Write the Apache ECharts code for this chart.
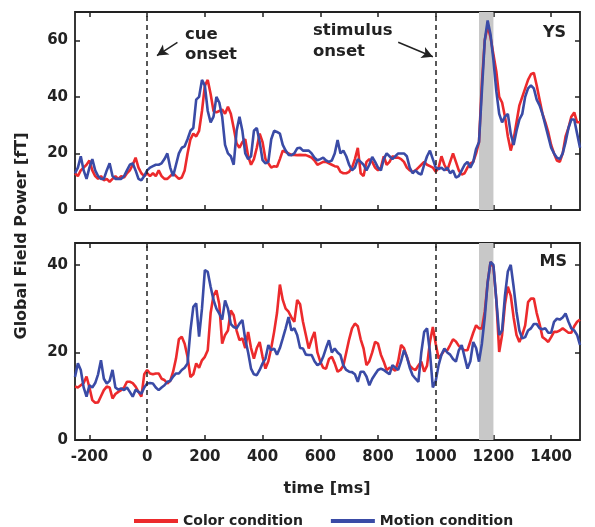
<!DOCTYPE html>
<html>
<head>
<meta charset="utf-8">
<script src="https://cdn.jsdelivr.net/npm/echarts@6/dist/echarts.min.js"></script>
<style>html,body{margin:0;padding:0;background:#fff}#c{width:595px;height:527px}</style>
</head>
<body>
<div id="c"></div>
<script>
// time grid (ms): -250 .. 1500, 10 ms step
const T_START = -250, T_STEP = 10;
const xTicks = [-200, 0, 200, 400, 600, 800, 1000, 1200, 1400];
const ysTicks = [0, 20, 40, 60];
const msTicks = [0, 20, 40];
const seriesNames = ['Color condition', 'Motion condition'];
const panelLabels = ['YS', 'MS'];
const eventTimes = [0, 1000];
const bandRange = [1150, 1200];

// YS panel
const ysColor = [13,12,14,15,16,17.5,14,12,11,12,10.5,11,10,11,12,11,12,11.5,13,14,16,18.5,15,13,12,
13,12,13,12,14,12,11,11,12,13,12,11,11.5,14,20,25,27,26,28,35,44,46,41,35,34.5,35,35.5,34,36.5,34,
29,23.5,22,24,25,19,16,18,22,27,24,18,16.5,15,15.5,15.3,18,21,20.5,20,19.5,19.5,19.4,19.5,19.4,19.4,
19,18.5,17.5,16,16.5,17,17,16.5,16,15.5,15.3,13.5,13,13,13.5,15,18,22,13,12,17,18,17,15,14,15,19,16,17,
19,18.5,18.5,18,17,15,14,13.5,14,15,16,17,16,15.5,15,13.5,15,19,16,14,17,20,17,14,12.5,13,15,16.5,17,
20,24,45,60,65,61,55,49,40,38,33,26,21,25,31,37,40,43,46,48,48.5,44,39,34,31,27.5,23,20,17.5,17,20,26,
29,33,34.5,31,31];
const ysMotion = [13,15,19,14,11,15,18,14,12,11,11,14,16.5,12,11,11,11,12,14,16,16.5,14,11,10.5,12,
14,15,15.5,16,16,16.5,18,20,15,12,16,20,22,22.5,25,28,29,39,40,46,44,35,31,33,40,38,33,23,20,19,
16,28,33,28,20,18,19,28,29,24,17.6,16.5,17,25,28,27.6,27,23,21,19.5,19.4,20,21.8,22,21,21,21,20,
18.5,17.6,18,18.5,17.5,17,17.5,20,24.7,20,21,19,16,14,15,18,17,16,14,16,18.8,17,15,14,18,20,19,18,
19,20,20,20,19,15,13,14,13,12.5,16,19,21,18,15,14.5,15,14,15,13,14,11.5,12,14,16,17,15,17,21.6,
24,42,60,67,62,53,42,34,31,33,34,27,23,28,32,34,40,43,44,43,39,37,34,30,26,22,20,18.5,18,20,24,
29,32,32,27,22];

// MS panel
const msColor = [12.2,12,12.5,13,14.5,12,9.1,8.5,8.6,10,11.4,12.2,12,9.5,10.5,11,11.4,12,13.3,13.3,13,
12.2,11,9.9,15,16,15.2,15,15.2,15.2,14,13.7,12.9,13.5,15.6,18.6,23,23.6,22,19,14.4,15,17.5,16.5,18.2,
19,20.5,29,33,34.2,31,22,24,25,29.6,28.5,25,22.8,23.2,21,24.7,21,18.6,21,22.4,19,16.3,18,21,24.7,29,
35.5,32,30,29.3,28,27,32,31,27,24,20.9,23,24.7,20,17.9,16.5,16.3,18.5,19,17.5,15.6,16,17,20,23,25.5,
26.6,26,23,20.9,17.1,18,20,22.4,22,19.5,17.9,16,16.5,16.3,15.8,18,21.7,21,19,17,16.3,16,17,17.9,15.6,
17,22.4,25.8,22,18.6,19.5,20.5,20.5,21.7,23,22.5,21.5,20.9,20.5,20.5,22.5,24.5,26.2,25.5,25.5,29.3,
36,40.7,39.5,32,20.1,24,31,35,33,28,24,22.4,24,26.2,31.5,32.3,32.3,29,26.5,23.5,23,22.4,23.5,24.7,
24.7,25,25.5,25,24.5,24.5,26,27,27.5];
const msMotion = [14.4,17.5,16,12,9.9,12.5,12,13,15,18.2,14,12.9,13.5,16,12,11.5,11.8,11.4,12,11,9.9,
11.5,11,10.6,12,12.9,13,12.9,12,11.4,12,12.5,13.3,13.5,14.5,15.2,15.2,16,16.5,17.5,25,30.4,31.2,23.6,
30,38.8,38.4,35,32,30,28.9,27.5,31.9,30,26.5,25.8,25.5,26.6,27.4,23,20,16.3,15,14.8,16,17.5,18.6,
21.7,20.5,20.9,19.5,21,23.2,25.5,28.1,25,25.5,24,21,20.9,19.5,19.4,19.4,18,17.1,17.5,19,21,22.8,20,
20.9,20,19.4,17,16,15.6,15.5,15,13.3,15.6,15.6,14.5,12.5,14,15,16,16.3,16,15.5,15,17.1,16.5,16,18,
20.5,19,16.5,14.8,14,13.3,20,24.7,25.5,20,12,13.5,17.1,19.5,20.9,20,19.5,18.5,17.9,20.5,21.7,19,
16.3,18,22.4,21,17.9,22,28,36,40.7,40,32,24,25,33,38.5,40,35,29.3,25,23.2,23.5,25,25.5,26.5,26.5,
25.5,25.3,25.5,24.5,24.5,27,27.7,27.5,28,28.9,27,25.5,25,24,21.7];

const RED = '#ec2a2c', BLUE = '#3a4ba6', INK = '#222222';
const FONT = 'DejaVu Sans';
const pts = arr => arr.map((v, i) => [T_START + i * T_STEP, v]);

const grids = [
  {left: 75, top: 12, width: 505, height: 198, show: true, borderColor: INK, borderWidth: 1.8, backgroundColor: 'transparent'},
  {left: 75, top: 243, width: 505, height: 197, show: true, borderColor: INK, borderWidth: 1.8, backgroundColor: 'transparent'}
];

function xAx(grid, pos, labels) {
  return {
    type: 'value', gridIndex: grid, position: pos, min: -250, max: 1500,
    axisLine: {show: false, onZero: false}, splitLine: {show: false},
    axisTick: {show: true, inside: true, length: 5, customValues: xTicks, lineStyle: {color: INK, width: 1.5}},
    axisLabel: {show: labels, customValues: xTicks, margin: 10, color: INK, fontFamily: FONT, fontWeight: 'bold', fontSize: 15,
      formatter: v => String(v)}
  };
}
function yAx(grid, pos, max, ticks, labels) {
  return {
    type: 'value', gridIndex: grid, position: pos, min: 0, max: max, interval: 20,
    axisLine: {show: false, onZero: false}, splitLine: {show: false},
    axisTick: {show: true, inside: true, length: 5, lineStyle: {color: INK, width: 1.5}},
    axisLabel: {show: labels, margin: 7, color: INK, fontFamily: FONT, fontWeight: 'bold', fontSize: 15,
      showMaxLabel: true, formatter: v => ticks.includes(v) ? String(v) : ''}
  };
}

const xAxes = [xAx(0,'bottom',false), xAx(0,'top',false), xAx(1,'bottom',true), xAx(1,'top',false)];
const yAxes = [yAx(0,'left',70,ysTicks,true), yAx(0,'right',70,ysTicks,false), yAx(1,'left',45,msTicks,true), yAx(1,'right',45,msTicks,false)];

function panelSeries(xi, yi, colorData, motionData, arrows) {
  const dash = {symbol: 'none', silent: true, label: {show: false},
    lineStyle: {color: INK, type: [5, 4], width: 1.5},
    data: eventTimes.map(t => ({xAxis: t}))};
  const base = {
    type: 'line', name: '_band', xAxisIndex: xi, yAxisIndex: yi, data: [], z: 1, silent: true,
    markArea: {silent: true, itemStyle: {color: '#c8c8c8', opacity: 1}, data: [[{xAxis: bandRange[0]}, {xAxis: bandRange[1]}]]}
  };
  const s = [
    base,
    {type: 'line', name: seriesNames[0], xAxisIndex: xi, yAxisIndex: yi, data: pts(colorData), showSymbol: false, z: 3,
      lineStyle: {color: RED, width: 2.6}, itemStyle: {color: RED}, markLine: dash},
    {type: 'line', name: seriesNames[1], xAxisIndex: xi, yAxisIndex: yi, data: pts(motionData), showSymbol: false, z: 4,
      lineStyle: {color: BLUE, width: 2.6}, itemStyle: {color: BLUE}}
  ];
  if (arrows) {
    s[2].markLine = {silent: true, label: {show: false}, symbolSize: [9, 11],
      lineStyle: {color: INK, type: 'solid', width: 1.5},
      data: arrows.map(a => [{coord: a[0], symbol: 'none'}, {coord: a[1], symbol: 'arrow'}])};
  }
  return s;
}

const cueArrow = [[105, 59.3], [34, 54.6]];
const stimArrow = [[870, 59.3], [990, 54.2]];
const F16 = 'bold 16px "DejaVu Sans"';
const F17 = 'bold 16.5px "DejaVu Sans"';

const option = {
  animation: false,
  backgroundColor: '#ffffff',
  grid: grids,
  xAxis: xAxes,
  yAxis: yAxes,
  legend: {
    data: seriesNames, left: 129, top: 509, itemWidth: 44, itemHeight: 4, itemGap: 28, icon: 'rect',
    textStyle: {color: INK, fontFamily: FONT, fontWeight: 'bold', fontSize: 14}, selectedMode: false
  },
  series: [
    ...panelSeries(0, 0, ysColor, ysMotion, [cueArrow, stimArrow]),
    ...panelSeries(2, 2, msColor, msMotion, null)
  ],
  graphic: [
    {type: 'text', x: 22, y: 236, rotation: Math.PI / 2, style: {text: 'Global Field Power [fT]', fill: INK, font: F16, align: 'center', verticalAlign: 'middle'}},
    {type: 'text', x: 327, y: 489, style: {text: 'time [ms]', fill: INK, font: F16, align: 'center', verticalAlign: 'middle'}},
    {type: 'text', x: 185, y: 35, style: {text: 'cue', fill: INK, font: F17, align: 'left', verticalAlign: 'middle'}},
    {type: 'text', x: 185, y: 55, style: {text: 'onset', fill: INK, font: F17, align: 'left', verticalAlign: 'middle'}},
    {type: 'text', x: 313, y: 31, style: {text: 'stimulus', fill: INK, font: F17, align: 'left', verticalAlign: 'middle'}},
    {type: 'text', x: 313, y: 52, style: {text: 'onset', fill: INK, font: F17, align: 'left', verticalAlign: 'middle'}},
    {type: 'text', x: 566, y: 33, style: {text: panelLabels[0], fill: INK, font: F16, align: 'right', verticalAlign: 'middle'}},
    {type: 'text', x: 567, y: 262, style: {text: panelLabels[1], fill: INK, font: F16, align: 'right', verticalAlign: 'middle'}}
  ]
};

const chart = echarts.init(document.getElementById('c'), null, {renderer: 'canvas'});
chart.setOption(option);
</script>
</body>
</html>
